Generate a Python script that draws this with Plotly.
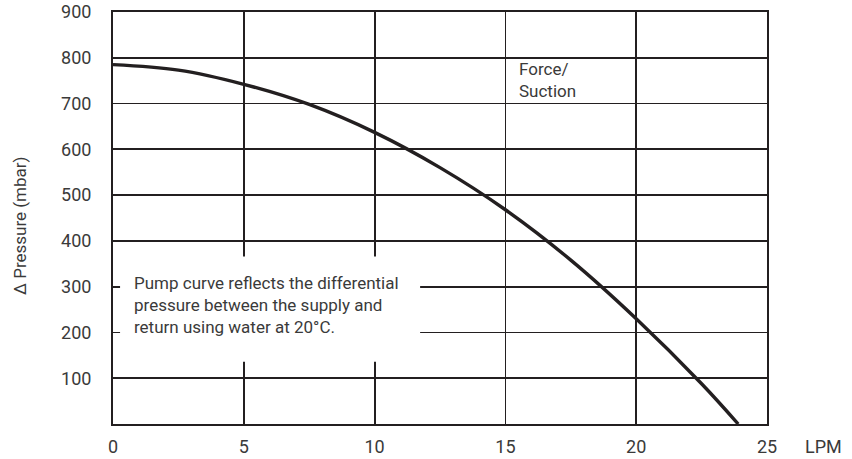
import plotly.graph_objects as go

# Data
flow_lpm = [0, 2.5, 5, 7.5, 10, 12.5, 15, 17.5, 20, 22.5, 23.9]
pressure_mbar = [785, 773, 742, 698, 637, 560, 468, 358, 230, 88, 0]

x_ticks = [0, 5, 10, 15, 20, 25]
y_ticks = [100, 200, 300, 400, 500, 600, 700, 800, 900]

FONT = "Roboto, Liberation Sans Narrow, sans-serif"
INK = "#231f20"
TXT = "#3a3a3a"

W, H = 852, 459
PL, PR, PT, PB = 113, 767, 12, 424  # plot area edges in pixels

fig = go.Figure()
fig.add_trace(go.Scatter(
    x=flow_lpm, y=pressure_mbar, mode="lines",
    line=dict(color=INK, width=3.4, shape="spline", smoothing=1.0),
    hoverinfo="skip", showlegend=False,
))

fig.update_layout(
    width=W, height=H,
    margin=dict(l=PL, r=W - PR, t=PT, b=H - PB, autoexpand=False),
    paper_bgcolor="white", plot_bgcolor="white",
    font=dict(family=FONT, color=TXT, size=18),
    xaxis=dict(
        range=[0, 25], tickvals=x_ticks, ticktext=[str(v) for v in x_ticks],
        showgrid=True, gridcolor=INK, gridwidth=1.8, automargin=False,
        showline=True, linecolor=INK, linewidth=2, mirror=True,
        zeroline=False, ticks="outside", ticklen=5, tickcolor="rgba(0,0,0,0)",
        tickfont=dict(family=FONT, size=18, color=TXT),
    ),
    yaxis=dict(
        range=[0, 900], tickvals=y_ticks, ticktext=[str(v) for v in y_ticks],
        showgrid=True, gridcolor=INK, gridwidth=1.8, automargin=False,
        showline=True, linecolor=INK, linewidth=2, mirror=True,
        zeroline=False, ticks="outside", ticklen=16, tickcolor="rgba(0,0,0,0)",
        tickfont=dict(family=FONT, size=18, color=TXT),
    ),
)

# White box behind the note, covering gridlines
fig.add_shape(type="rect", xref="x", yref="y", x0=0.27, x1=11.74, y0=136, y1=366,
              fillcolor="white", line=dict(width=0), layer="between")

fig.add_annotation(
    x=0.73, y=261, xref="x", yref="y", xanchor="left", yanchor="middle",
    text="Pump curve reflects the differential<br>pressure between the supply and<br>return using water at 20°C.",
    align="left", showarrow=False, font=dict(family=FONT, size=17, color=TXT),
)
fig.add_annotation(
    x=15.45, y=752, xref="x", yref="y", xanchor="left", yanchor="middle",
    text="Force/<br>Suction", align="left", showarrow=False,
    font=dict(family=FONT, size=17, color=TXT),
)
pw, ph = PR - PL, PB - PT
fig.add_annotation(
    x=(823 - PL) / pw, y=-(446 - PB) / ph, xref="paper", yref="paper",
    xanchor="center", yanchor="middle", text="LPM", showarrow=False,
    font=dict(family=FONT, size=18, color=TXT),
)
fig.add_annotation(
    x=(20 - PL) / pw, y=(PB - 226) / ph, xref="paper", yref="paper",
    xanchor="center", yanchor="middle", text="Δ Pressure (mbar)", textangle=-90,
    showarrow=False, font=dict(family=FONT, size=17, color=TXT),
)

fig.write_html(
    "out.html",
    config={"displayModeBar": False, "staticPlot": True},
    post_script="document.body.style.margin='0';document.body.style.overflow='hidden';",
)
